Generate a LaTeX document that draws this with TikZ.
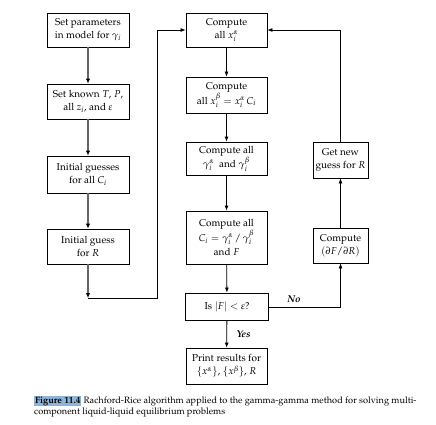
\documentclass[tikz,border=0pt]{standalone}
\usepackage[T1]{fontenc}
\usepackage{mathpazo}
\usetikzlibrary{arrows.meta}
\definecolor{hl}{RGB}{141,180,217}
\begin{document}
\begin{tikzpicture}[x=1pt,y=-1pt,
  box/.style={draw,line width=0.8pt,align=center,inner sep=1pt,font=\fontsize{10}{13}\selectfont},
  tallbox/.style={box,font=\fontsize{10}{14.5}\selectfont},
  garrow/.style={draw=black!60,line width=1.6pt,-{Latex[length=5pt,width=4.5pt,black]}},
  barrow/.style={draw,line width=0.8pt,-{Latex[length=5pt,width=4pt]}},
  bline/.style={draw,line width=0.8pt},
  lab/.style={font=\fontsize{10}{11}\selectfont\bfseries\itshape}]
\useasboundingbox (0,0) rectangle (436,425);
% left column
\node[box,minimum width=82pt,minimum height=34pt] (L1) at (88,30) {Set parameters\\in model for $\gamma_i$};
\node[box,minimum width=82pt,minimum height=35pt] (L2) at (88,101.5) {Set known $T$, $P$,\\ all $z_i$, and $\varepsilon$};
\node[box,minimum width=82pt,minimum height=37pt] (L3) at (88,174.5) {Initial guesses\\for all $C_i$};
\node[box,minimum width=82pt,minimum height=35pt] (L4) at (88,246.5) {Initial guess\\for $R$};
\coordinate (c1) at (88,298);
\coordinate (c2) at (157,298);
\coordinate (c3) at (157,30);
% middle column
\node[box,minimum width=81pt,minimum height=34pt] (M1) at (226.5,30) {Compute\\all $x_i^\alpha$};
\node[box,minimum width=81pt,minimum height=36pt] (M2) at (226.5,95) {Compute\\all $x_i^\beta = x_i^\alpha\,C_i$};
\node[tallbox,minimum width=81pt,minimum height=33pt] (M3) at (226.5,158.5) {Compute all\\$\gamma_i^\alpha$\ \ and $\gamma_i^\beta$};
\node[tallbox,minimum width=81pt,minimum height=53pt] (M4) at (226.5,237.5) {Compute all\\$C_i = \gamma_i^\alpha\,/\,\gamma_i^\beta$\\and $F$};
\node[box,minimum width=83pt,minimum height=27pt] (D) at (227,306.5) {Is $|F| < \varepsilon$?};
\node[box,minimum width=81pt,minimum height=36pt] (P) at (226.5,366) {Print results for\\$\{x^\alpha\}$, $\{x^\beta\}$, $R$};
% right column
\node[box,minimum width=55pt,minimum height=36pt] (R1) at (340.5,160) {Get new\\guess for $R$};
\node[box,minimum width=55pt,minimum height=35pt] (R2) at (340.5,245.5) {Compute\\$(\partial F/\partial R)$};
\coordinate (c4) at (340.5,307);
\coordinate (c5) at (340.5,30);
% connectors
\draw[garrow] (L1) -- (L2);
\draw[garrow] (L2) -- (L3);
\draw[garrow] (L3) -- (L4);
\draw[garrow] (L4) -- (c1);
\draw[bline] (c1) -- (c2) -- (c3);
\draw[barrow] (c3) -- (M1);
\draw[barrow] (M1) -- (M2);
\draw[barrow] (M2) -- (M3);
\draw[barrow] (M3) -- (M4);
\draw[barrow] (M4) -- (D);
\draw[barrow] (D) -- node[lab,right=6pt] {Yes} (P);
\draw[barrow] (D.east |- c4) -- node[lab,above=1pt,pos=0.35] {No} (c4) -- (R2);
\draw[barrow] (R2) -- (R1);
\draw[barrow] (R1) -- (c5) -- (M1);
% caption
\node[anchor=base west,inner sep=0pt,font=\fontsize{9.2}{11}\selectfont] (cap1) at (34,403) {\fboxsep=0.8pt\colorbox{hl}{\textbf{Figure 11.4}}\ Rachford-Rice algorithm applied to the gamma-gamma method for solving multi-};
\node[anchor=base west,inner sep=0pt,font=\fontsize{9.2}{11}\selectfont] (cap2) at (34,414) {component liquid-liquid equilibrium problems};
\end{tikzpicture}
\end{document}
